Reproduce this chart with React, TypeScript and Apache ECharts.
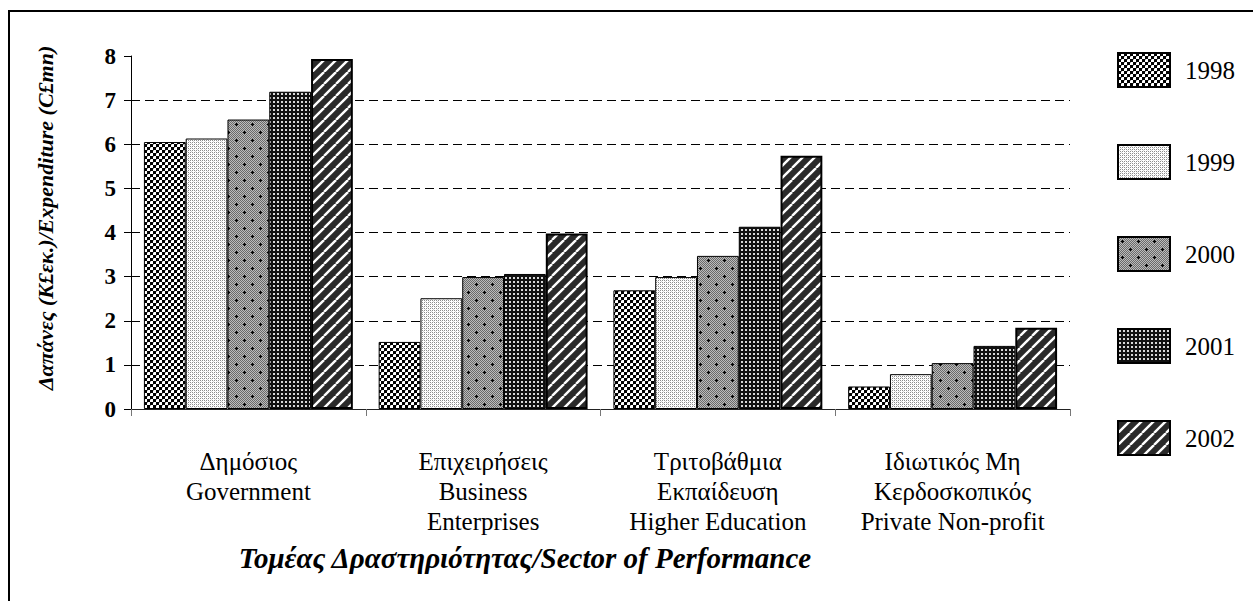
import React, { useEffect, useRef } from "react";
import * as echarts from "echarts";

const categories = [
  "Δημόσιος\nGovernment",
  "Επιχειρήσεις\nBusiness\nEnterprises",
  "Τριτοβάθμια\nΕκπαίδευση\nHigher Education",
  "Ιδιωτικός Μη\nΚερδοσκοπικός\nPrivate Non-profit",
];
const years = ["1998", "1999", "2000", "2001", "2002"];
const v1998 = [6.05, 1.52, 2.69, 0.51];
const v1999 = [6.13, 2.51, 2.99, 0.79];
const v2000 = [6.56, 2.99, 3.47, 1.04];
const v2001 = [7.19, 3.06, 4.13, 1.43];
const v2002 = [7.93, 3.98, 5.74, 1.84];
const seriesValues = [v1998, v1999, v2000, v2001, v2002];
const yAxisTitle = "Δαπάνες (Κ£εκ.)/Expenditure (C£mn)";
const xAxisTitle = "Τομέας Δραστηριότητας/Sector of Performance";

const SERIF = "Liberation Serif";

function makeTile(size: number, draw: (ctx: CanvasRenderingContext2D) => void) {
  const c = document.createElement("canvas");
  c.width = size;
  c.height = size;
  const ctx = c.getContext("2d")!;
  draw(ctx);
  return c;
}

function makePatterns() {
  const p1998 = makeTile(6, (ctx) => {
    ctx.fillStyle = "#ffffff";
    ctx.fillRect(0, 0, 6, 6);
    ctx.fillStyle = "#000000";
    ctx.fillRect(0, 0, 3, 3);
    ctx.fillRect(3, 3, 3, 3);
    ctx.fillStyle = "#9a9a9a";
    ctx.fillRect(3, 0, 1, 1);
    ctx.fillRect(0, 3, 1, 1);
  });
  const p1999 = makeTile(4, (ctx) => {
    ctx.fillStyle = "#ffffff";
    ctx.fillRect(0, 0, 4, 4);
    ctx.fillStyle = "#8c8c8c";
    ctx.fillRect(0, 0, 1, 1);
    ctx.fillRect(2, 0, 1, 1);
    ctx.fillRect(0, 2, 1, 1);
    ctx.fillRect(2, 2, 1, 1);
    ctx.fillStyle = "#d4d4d4";
    ctx.fillRect(1, 1, 1, 1);
    ctx.fillRect(3, 3, 1, 1);
  });
  const p2000 = makeTile(16, (ctx) => {
    for (let y = 0; y < 16; y++) {
      for (let x = 0; x < 16; x++) {
        ctx.fillStyle = (x + y) % 2 === 0 ? "#6a6a6a" : "#bcbcbc";
        ctx.fillRect(x, y, 1, 1);
      }
    }
    ctx.fillStyle = "#000000";
    const plus = (cx: number, cy: number) => {
      ctx.fillRect(cx - 1, cy, 3, 1);
      ctx.fillRect(cx, cy - 1, 1, 3);
    };
    plus(4, 4);
    plus(12, 12);
  });
  const p2001 = makeTile(4, (ctx) => {
    ctx.fillStyle = "#111111";
    ctx.fillRect(0, 0, 4, 4);
    ctx.fillStyle = "#d8d8d8";
    ctx.fillRect(1, 1, 2, 2);
  });
  const p2002 = makeTile(12, (ctx) => {
    ctx.fillStyle = "#2a2a2a";
    ctx.fillRect(0, 0, 12, 12);
    ctx.strokeStyle = "#ffffff";
    ctx.lineWidth = 2.4;
    for (const o of [-12, 0, 12]) {
      ctx.beginPath();
      ctx.moveTo(o, 12);
      ctx.lineTo(o + 12, 0);
      ctx.stroke();
    }
  });
  return [p1998, p1999, p2000, p2001, p2002];
}

export default function App() {
  const ref = useRef<HTMLDivElement>(null);
  useEffect(() => {
    if (!ref.current) return;
    const chart = echarts.init(ref.current, null, { renderer: "svg" });
    const tiles = makePatterns();
    const series = years.map((y, i) => ({
      name: y,
      type: "bar",
      data: seriesValues[i],
      barGap: "0%",
      barCategoryGap: "11%",
      itemStyle: {
        color: { image: tiles[i], repeat: "repeat" } as any,
        borderColor: "#000",
        borderWidth: i === 4 ? 2 : 1,
      },
      emphasis: { disabled: true },
    }));
    chart.setOption({
      animation: false,
      backgroundColor: "#ffffff",
      grid: { left: 131, right: 183, top: 56, bottom: 192 },
      legend: {
        data: years,
        orient: "vertical",
        left: 1117,
        top: 52,
        padding: 0,
        itemWidth: 52,
        itemHeight: 34,
        itemGap: 56,
        icon: "rect",
        selectedMode: false,
        textStyle: {
          fontFamily: SERIF,
          fontSize: 25,
          color: "#000",
          padding: [0, 0, 0, 10],
        },
      },
      xAxis: {
        type: "category",
        data: categories,
        axisLine: { lineStyle: { color: "#222", width: 1 } },
        axisTick: { show: true, length: 7, lineStyle: { color: "#777" } },
        axisLabel: {
          fontFamily: SERIF,
          fontSize: 25,
          color: "#000",
          lineHeight: 30,
          margin: 37,
          interval: 0,
        },
      },
      yAxis: {
        type: "value",
        min: 0,
        max: 8,
        interval: 1,
        axisLine: { show: true, lineStyle: { color: "#000", width: 1 } },
        axisTick: { show: true, length: 7, lineStyle: { color: "#000" } },
        axisLabel: {
          fontFamily: SERIF,
          fontSize: 23,
          fontWeight: "bold",
          color: "#000",
          margin: 15,
        },
        splitLine: {
          show: true,
          showMaxLine: false,
          lineStyle: { color: "#000", type: [9, 5], width: 1 },
        },
      },
      graphic: [
        {
          type: "rect",
          silent: true,
          shape: { x: 9, y: 11, width: 1400, height: 800 },
          style: { fill: "none", stroke: "#000", lineWidth: 2 },
        },
        {
          type: "text",
          x: 45,
          y: 218,
          rotation: Math.PI / 2,
          style: {
            text: yAxisTitle,
            font: `italic bold 22px ${SERIF}`,
            fill: "#000",
            align: "center",
            verticalAlign: "middle",
          },
        },
        {
          type: "text",
          x: 525,
          y: 558,
          style: {
            text: xAxisTitle,
            font: `italic bold 29px ${SERIF}`,
            fill: "#000",
            align: "center",
            verticalAlign: "middle",
          },
        },
      ],
      series,
    });
    return () => chart.dispose();
  }, []);
  return (
    <div
      ref={ref}
      style={{ position: "fixed", left: 0, top: 0, width: 1253, height: 601, background: "#fff" }}
    />
  );
}
